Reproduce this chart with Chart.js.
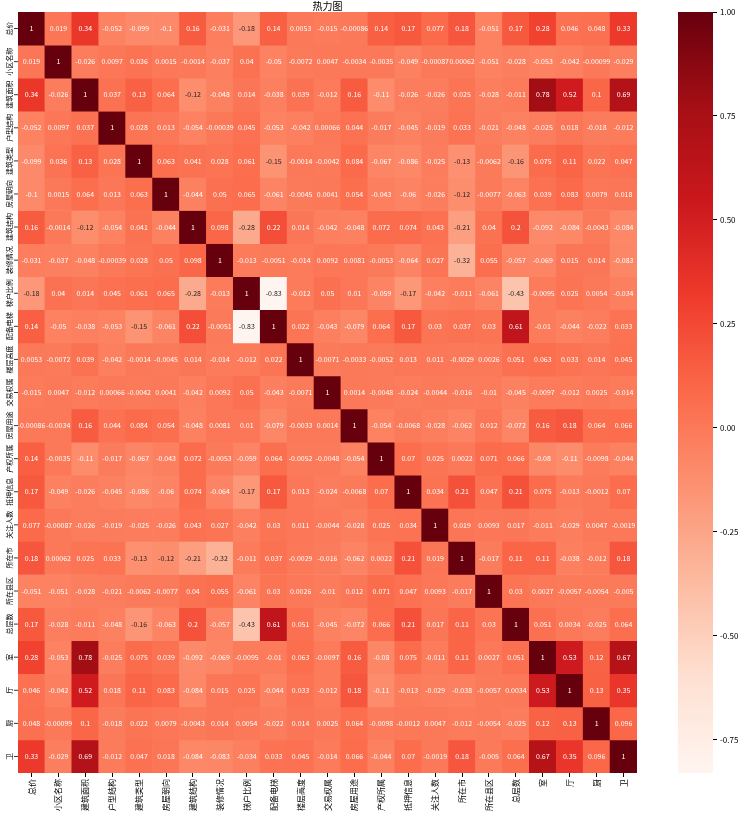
<!DOCTYPE html>
<html>
<head>
<meta charset="utf-8">
<script src="https://cdn.jsdelivr.net/npm/chart.js@4"></script>
<style>
  body { margin: 0; background: #fff; }
  #wrap { position: relative; width: 753px; height: 821px; }
  #heat { position: absolute; left: 0; top: 0; }
  #cbar { position: absolute; left: 660px; top: 0; }
</style>
</head>
<body>
<div id="wrap">
  <canvas id="heat" width="660" height="821"></canvas>
  <canvas id="cbar" width="93" height="821"></canvas>
</div>
<script>
const labels = ['总价', '小区名称', '建筑面积', '户型结构', '建筑类型', '房屋朝向', '建筑结构', '装修情况', '梯户比例', '配备电梯',
    '楼层高度', '交易权属', '房屋用途', '产权所属', '抵押信息', '关注人数', '所在市', '所在县区', '总层数', '室', '厅', '厨', '卫'];

// correlation matrix, one row per label
const corrRows = [
    [1, 0.019, 0.34, -0.052, -0.099, -0.1, 0.16, -0.031, -0.18, 0.14, 0.0053, -0.015, -0.00086, 0.14, 0.17, 0.077, 0.18, -0.051, 0.17, 0.28, 0.046, 0.048, 0.33],
    [0.019, 1, -0.026, 0.0097, 0.036, 0.0015, -0.0014, -0.037, 0.04, -0.05, -0.0072, 0.0047, -0.0034, -0.0035, -0.049, -0.00087, 0.00062, -0.051, -0.028, -0.053, -0.042, -0.00099, -0.029],
    [0.34, -0.026, 1, 0.037, 0.13, 0.064, -0.12, -0.048, 0.014, -0.038, 0.039, -0.012, 0.16, -0.11, -0.026, -0.026, 0.025, -0.028, -0.011, 0.78, 0.52, 0.1, 0.69],
    [-0.052, 0.0097, 0.037, 1, 0.028, 0.013, -0.054, -0.00039, 0.045, -0.053, -0.042, 0.00066, 0.044, -0.017, -0.045, -0.019, 0.033, -0.021, -0.048, -0.025, 0.018, -0.018, -0.012],
    [-0.099, 0.036, 0.13, 0.028, 1, 0.063, 0.041, 0.028, 0.061, -0.15, -0.0014, -0.0042, 0.084, -0.067, -0.086, -0.025, -0.13, -0.0062, -0.16, 0.075, 0.11, 0.022, 0.047],
    [-0.1, 0.0015, 0.064, 0.013, 0.063, 1, -0.044, 0.05, 0.065, -0.061, -0.0045, 0.0041, 0.054, -0.043, -0.06, -0.026, -0.12, -0.0077, -0.063, 0.039, 0.083, 0.0079, 0.018],
    [0.16, -0.0014, -0.12, -0.054, 0.041, -0.044, 1, 0.098, -0.28, 0.22, 0.014, -0.042, -0.048, 0.072, 0.074, 0.043, -0.21, 0.04, 0.2, -0.092, -0.084, -0.0043, -0.084],
    [-0.031, -0.037, -0.048, -0.00039, 0.028, 0.05, 0.098, 1, -0.013, -0.0051, -0.014, 0.0092, 0.0081, -0.0053, -0.064, 0.027, -0.32, 0.055, -0.057, -0.069, 0.015, 0.014, -0.083],
    [-0.18, 0.04, 0.014, 0.045, 0.061, 0.065, -0.28, -0.013, 1, -0.83, -0.012, 0.05, 0.01, -0.059, -0.17, -0.042, -0.011, -0.061, -0.43, -0.0095, 0.025, 0.0054, -0.034],
    [0.14, -0.05, -0.038, -0.053, -0.15, -0.061, 0.22, -0.0051, -0.83, 1, 0.022, -0.043, -0.079, 0.064, 0.17, 0.03, 0.037, 0.03, 0.61, -0.01, -0.044, -0.022, 0.033],
    [0.0053, -0.0072, 0.039, -0.042, -0.0014, -0.0045, 0.014, -0.014, -0.012, 0.022, 1, -0.0071, -0.0033, -0.0052, 0.013, 0.011, -0.0029, 0.0026, 0.051, 0.063, 0.033, 0.014, 0.045],
    [-0.015, 0.0047, -0.012, 0.00066, -0.0042, 0.0041, -0.042, 0.0092, 0.05, -0.043, -0.0071, 1, 0.0014, -0.0048, -0.024, -0.0044, -0.016, -0.01, -0.045, -0.0097, -0.012, 0.0025, -0.014],
    [-0.00086, -0.0034, 0.16, 0.044, 0.084, 0.054, -0.048, 0.0081, 0.01, -0.079, -0.0033, 0.0014, 1, -0.054, -0.0068, -0.028, -0.062, 0.012, -0.072, 0.16, 0.18, 0.064, 0.066],
    [0.14, -0.0035, -0.11, -0.017, -0.067, -0.043, 0.072, -0.0053, -0.059, 0.064, -0.0052, -0.0048, -0.054, 1, 0.07, 0.025, 0.0022, 0.071, 0.066, -0.08, -0.11, -0.0098, -0.044],
    [0.17, -0.049, -0.026, -0.045, -0.086, -0.06, 0.074, -0.064, -0.17, 0.17, 0.013, -0.024, -0.0068, 0.07, 1, 0.034, 0.21, 0.047, 0.21, 0.075, -0.013, -0.0012, 0.07],
    [0.077, -0.00087, -0.026, -0.019, -0.025, -0.026, 0.043, 0.027, -0.042, 0.03, 0.011, -0.0044, -0.028, 0.025, 0.034, 1, 0.019, 0.0093, 0.017, -0.011, -0.029, 0.0047, -0.0019],
    [0.18, 0.00062, 0.025, 0.033, -0.13, -0.12, -0.21, -0.32, -0.011, 0.037, -0.0029, -0.016, -0.062, 0.0022, 0.21, 0.019, 1, -0.017, 0.11, 0.11, -0.038, -0.012, 0.18],
    [-0.051, -0.051, -0.028, -0.021, -0.0062, -0.0077, 0.04, 0.055, -0.061, 0.03, 0.0026, -0.01, 0.012, 0.071, 0.047, 0.0093, -0.017, 1, 0.03, 0.0027, -0.0057, -0.0054, -0.005],
    [0.17, -0.028, -0.011, -0.048, -0.16, -0.063, 0.2, -0.057, -0.43, 0.61, 0.051, -0.045, -0.072, 0.066, 0.21, 0.017, 0.11, 0.03, 1, 0.051, 0.0034, -0.025, 0.064],
    [0.28, -0.053, 0.78, -0.025, 0.075, 0.039, -0.092, -0.069, -0.0095, -0.01, 0.063, -0.0097, 0.16, -0.08, 0.075, -0.011, 0.11, 0.0027, 0.051, 1, 0.53, 0.12, 0.67],
    [0.046, -0.042, 0.52, 0.018, 0.11, 0.083, -0.084, 0.015, 0.025, -0.044, 0.033, -0.012, 0.18, -0.11, -0.013, -0.029, -0.038, -0.0057, 0.0034, 0.53, 1, 0.13, 0.35],
    [0.048, -0.00099, 0.1, -0.018, 0.022, 0.0079, -0.0043, 0.014, 0.0054, -0.022, 0.014, 0.0025, 0.064, -0.0098, -0.0012, 0.0047, -0.012, -0.0054, -0.025, 0.12, 0.13, 1, 0.096],
    [0.33, -0.029, 0.69, -0.012, 0.047, 0.018, -0.084, -0.083, -0.034, 0.033, 0.045, -0.014, 0.066, -0.044, 0.07, -0.0019, 0.18, -0.005, 0.064, 0.67, 0.35, 0.096, 1]
];

const cbTicks = [-0.75, -0.5, -0.25, 0, 0.25, 0.5, 0.75, 1];
const vmin = -0.83;
const vmax = 1;

// matplotlib "Reds"
const reds = ['#fff5f0', '#fee0d2', '#fcbba1', '#fc9272', '#fb6a4a', '#ef3b2c', '#cb181d', '#a50f15', '#67000d'];
const FONT = '"Noto Sans CJK SC", "DejaVu Sans", sans-serif';

function hexToRgb(h) {
    return [parseInt(h.slice(1, 3), 16), parseInt(h.slice(3, 5), 16), parseInt(h.slice(5, 7), 16)];
}

function colorFor(v) {
    let t = (v - vmin) / (vmax - vmin);
    t = Math.max(0, Math.min(1, t)) * (reds.length - 1);
    const i = Math.min(Math.floor(t), reds.length - 2);
    const f = t - i;
    const a = hexToRgb(reds[i]), b = hexToRgb(reds[i + 1]);
    return a.map((c, k) => Math.round(c + (b[k] - c) * f));
}

function textColorFor(v) {
    const lin = colorFor(v).map(c => {
        c = c / 255;
        return c <= 0.03928 ? c / 12.92 : Math.pow((c + 0.055) / 1.055, 2.4);
    });
    const lum = 0.2126 * lin[0] + 0.7152 * lin[1] + 0.0722 * lin[2];
    return lum > 0.408 ? '#262626' : '#ffffff';
}

// one floating-bar dataset per row
const datasets = corrRows.map((row, r) => ({
    label: labels[r],
    data: row.map(() => [r, r + 1]),
    backgroundColor: row.map(v => 'rgb(' + colorFor(v).join(',') + ')'),
    borderWidth: 0,
    barPercentage: 1,
    categoryPercentage: 1,
    grouped: false
}));

// cell values and rotated y labels
const annotPlugin = {
    id: 'annot',
    afterDatasetsDraw(chart) {
        const ctx = chart.ctx;
        ctx.save();
        ctx.font = '7px ' + FONT;
        ctx.textAlign = 'center';
        ctx.textBaseline = 'middle';
        corrRows.forEach((row, r) => {
            const meta = chart.getDatasetMeta(r);
            row.forEach((v, c) => {
                const el = meta.data[c];
                ctx.fillStyle = textColorFor(v);
                ctx.fillText(String(v), el.x, (el.y + el.base) / 2);
            });
        });

        const yScale = chart.scales.y;
        const left = chart.chartArea.left;
        ctx.font = '7px ' + FONT;
        ctx.fillStyle = '#000';
        ctx.strokeStyle = '#000';
        ctx.lineWidth = 0.8;
        labels.forEach((lab, r) => {
            const y = yScale.getPixelForValue(r + 0.5);
            ctx.beginPath();
            ctx.moveTo(left - 4, y);
            ctx.lineTo(left, y);
            ctx.stroke();
            ctx.save();
            ctx.translate(left - 9, y);
            ctx.rotate(-Math.PI / 2);
            ctx.fillText(lab, 0, 0);
            ctx.restore();
        });
        ctx.restore();
    }
};

new Chart(document.getElementById('heat'), {
    type: 'bar',
    data: { labels: labels, datasets: datasets },
    options: {
        responsive: false,
        animation: false,
        layout: { padding: { left: 18, right: 23, top: 0, bottom: 0 } },
        plugins: {
            legend: { display: false },
            tooltip: { enabled: false },
            title: {
                display: true,
                text: '热力图',
                color: '#000',
                font: { family: FONT, size: 10, weight: 'normal', lineHeight: 1.2 },
                padding: { top: 0, bottom: 0 }
            }
        },
        scales: {
            x: {
                ticks: {
                    color: '#000',
                    font: { family: FONT, size: 8 },
                    minRotation: 90,
                    maxRotation: 90,
                    autoSkip: false,
                    padding: 2
                },
                grid: { drawOnChartArea: false, drawTicks: true, tickLength: 4, color: '#000', offset: false },
                border: { display: false },
                afterFit(scale) { scale.height = 48; }
            },
            y: {
                display: false,
                min: 0,
                max: labels.length,
                reverse: true
            }
        }
    },
    plugins: [annotPlugin]
});

// colour bar
new Chart(document.getElementById('cbar'), {
    type: 'bar',
    data: {
        labels: [''],
        datasets: [{
            data: [[vmin, vmax]],
            barPercentage: 1,
            categoryPercentage: 1,
            borderWidth: 0,
            backgroundColor(context) {
                const area = context.chart.chartArea;
                if (!area) return reds[4];
                const g = context.chart.ctx.createLinearGradient(0, area.bottom, 0, area.top);
                reds.forEach((c, i) => g.addColorStop(i / (reds.length - 1), c));
                return g;
            }
        }]
    },
    options: {
        responsive: false,
        animation: false,
        layout: { padding: { left: 18, right: 0, top: 12, bottom: 48 } },
        plugins: { legend: { display: false }, tooltip: { enabled: false } },
        scales: {
            x: { display: false },
            y: {
                position: 'right',
                min: vmin,
                max: vmax,
                afterBuildTicks(scale) { scale.ticks = cbTicks.map(v => ({ value: v })); },
                ticks: {
                    color: '#000',
                    font: { family: FONT, size: 8 },
                    padding: 3,
                    callback: v => v.toFixed(2)
                },
                grid: { drawOnChartArea: false, drawTicks: true, tickLength: 4, color: '#000' },
                border: { display: false },
                afterFit(scale) { scale.width = 40; }
            }
        }
    }
});
</script>
</body>
</html>
